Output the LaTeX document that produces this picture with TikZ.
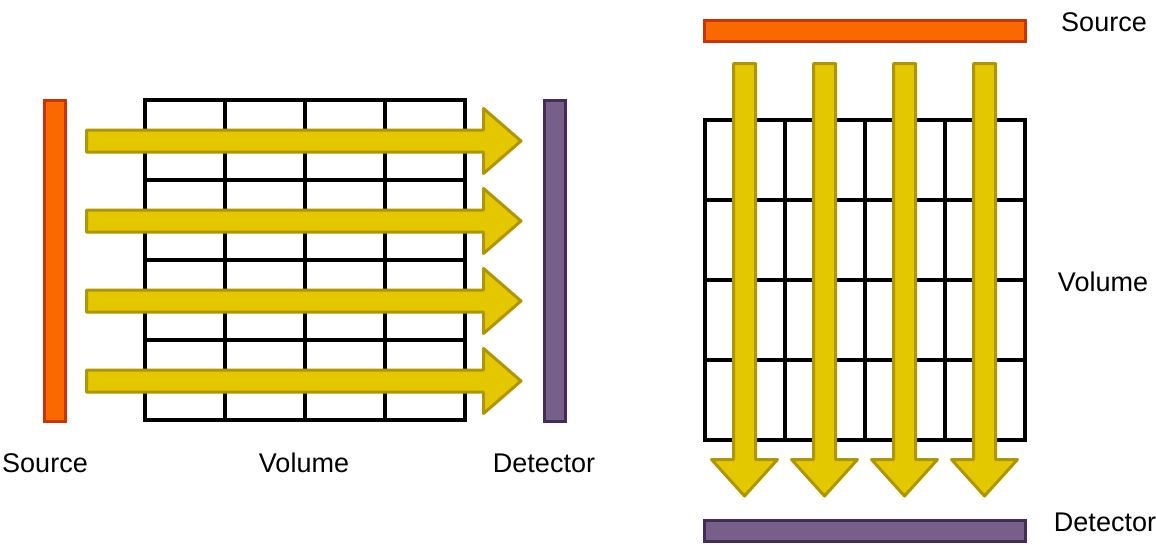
\documentclass[tikz,border=0pt]{standalone}
\usepackage{fontspec}
\setmainfont{Liberation Sans}
\definecolor{orF}{HTML}{FA6800}
\definecolor{orD}{HTML}{C73500}
\definecolor{puF}{HTML}{76608A}
\definecolor{puD}{HTML}{432D57}
\definecolor{yeF}{HTML}{E3C800}
\definecolor{yeD}{HTML}{B09500}
\tikzset{
  srcbar/.style={draw=orD, fill=orF, line width=3pt, inner sep=0pt, outer sep=0pt},
  detbar/.style={draw=puD, fill=puF, line width=3pt, inner sep=0pt, outer sep=0pt},
  gridline/.style={line width=4pt, black, line cap=rect},
  beam/.style={draw=yeD, fill=yeF, line width=3pt, line join=round},
  lbl/.style={font=\fontsize{27}{32}\selectfont, inner sep=0pt, anchor=center}
}
\begin{document}
\begin{tikzpicture}[x=1pt,y=-1pt]
\useasboundingbox (0,0) rectangle (1156,544);
% ---------- left diagram ----------
\node[srcbar, minimum width=21pt, minimum height=321pt] (srcL) at (55,261) {};
\node[detbar, minimum width=21pt, minimum height=321pt] (detL) at (555,261) {};
\foreach \x in {145,225,305,385,465} \draw[gridline] (\x,100) -- (\x,420);
\foreach \y in {100,180,260,340,420} \draw[gridline] (145,\y) -- (465,\y);
\foreach \c in {141,221,301,381} {
  \draw[beam] (86.5,\c-11) -- (483.5,\c-11) -- (483.5,\c-32.5) -- (521,\c)
     -- (483.5,\c+32.5) -- (483.5,\c+11) -- (86.5,\c+11) -- cycle;
}
\node[lbl] (srcLl) at (45,463) {Source};
\node[lbl] (volLl) at (304,463) {Volume};
\node[lbl] (detLl) at (544,463) {Detector};
% ---------- right diagram ----------
\node[srcbar, minimum width=321pt, minimum height=21pt] (srcR) at (865,31) {};
\node[detbar, minimum width=321pt, minimum height=21pt] (detR) at (865,531) {};
\foreach \x in {705,785,865,945,1025} \draw[gridline] (\x,120) -- (\x,440);
\foreach \y in {120,200,280,360,440} \draw[gridline] (705,\y) -- (1025,\y);
\foreach \c in {744.5,824.5,904.5,984.5} {
  \draw[beam] (\c-11,63.5) -- (\c-11,459.5) -- (\c-33,459.5) -- (\c,496)
     -- (\c+33,459.5) -- (\c+11,459.5) -- (\c+11,63.5) -- cycle;
}
\node[lbl] (srcRl) at (1104,22) {Source};
\node[lbl] (volRl) at (1103,282) {Volume};
\node[lbl] (detRl) at (1105,522) {Detector};
\end{tikzpicture}
\end{document}
